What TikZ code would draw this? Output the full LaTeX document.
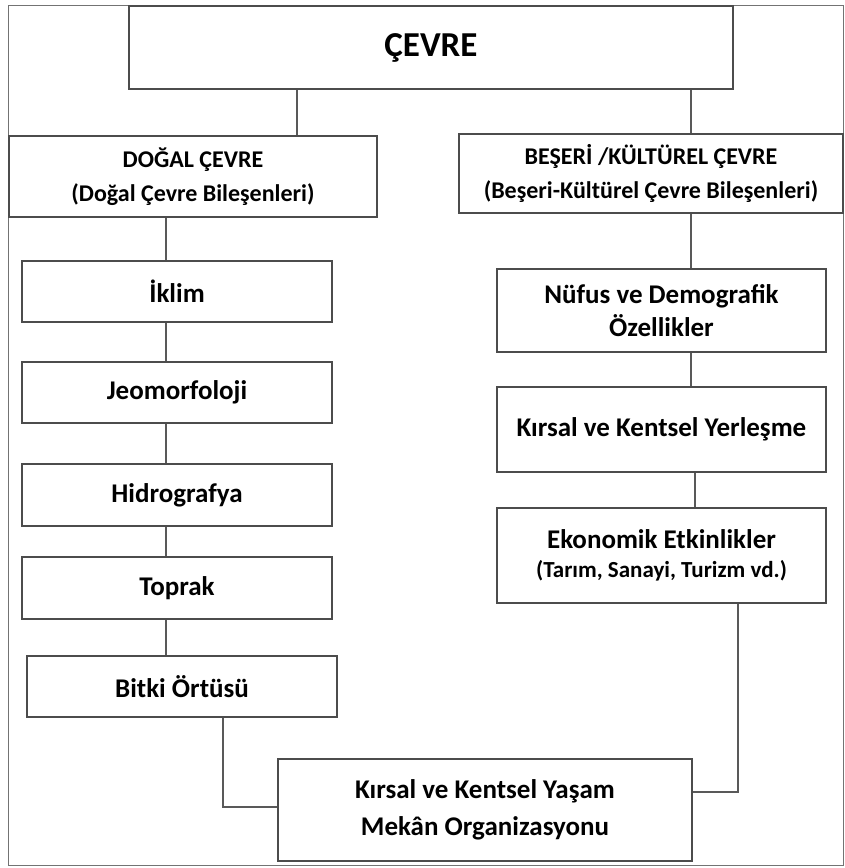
\documentclass[tikz,border=0pt]{standalone}
\usepackage{fontspec}
\setmainfont{Carlito}
\begin{document}
\begin{tikzpicture}[x=1pt, y=-1pt,
  box/.style={draw=black!70, line width=1.3pt, fill=white, inner sep=0pt,
    align=center, font=\bfseries\fontsize{27}{33}\selectfont},
  head/.style={box, font=\bfseries\fontsize{24}{34}\selectfont},
  link/.style={draw=black!65, line width=1.3pt}]

\useasboundingbox (0,0) rectangle (845,868);

% Outer frame
\draw[black!55, line width=1pt] (8,5) rectangle (843,865);

% Top box
\node[box, minimum width=604, minimum height=83, font=\bfseries\fontsize{35}{40}\selectfont] (cevre) at (431,47.5) {ÇEVRE};

% Two main branches
\node[head, minimum width=368, minimum height=81] (dogal) at (193,176.5)
  {DOĞAL ÇEVRE\\(Doğal Çevre Bileşenleri)};
\node[head, minimum width=384, minimum height=79] (beseri) at (651,173.5)
  {BEŞERİ /KÜLTÜREL ÇEVRE\\(Beşeri-Kültürel Çevre Bileşenleri)};

% Natural components
\node[box, minimum width=310, minimum height=61] (iklim) at (177,291.5) {İklim};
\node[box, minimum width=310, minimum height=61] (jeo) at (177,392.5) {Jeomorfoloji};
\node[box, minimum width=310, minimum height=62] (hidro) at (177,495) {Hidrografya};
\node[box, minimum width=310, minimum height=62] (toprak) at (177,588) {Toprak};
\node[box, minimum width=310, minimum height=61] (bitki) at (182,686.5) {Bitki Örtüsü};

% Human / cultural components
\node[box, minimum width=329, minimum height=83] (nufus) at (661.5,310.5)
  {Nüfus ve Demografik\\Özellikler};
\node[box, minimum width=329, minimum height=85] (kirsal) at (661.5,429.5)
  {Kırsal ve Kentsel Yerleşme};
\node[box, minimum width=329, minimum height=95, font=\bfseries\fontsize{27}{29}\selectfont] (eko) at (661.5,555.5)
  {Ekonomik Etkinlikler\\{\fontsize{23}{29}\selectfont(Tarım, Sanayi, Turizm vd.)}};

% Result box
\node[box, minimum width=414, minimum height=102, font=\bfseries\fontsize{27}{37}\selectfont] (yasam) at (485,810)
  {Kırsal ve Kentsel Yaşam\\Mekân Organizasyonu};

% Helper x positions
\coordinate (xl) at (297,0);
\coordinate (xr) at (691,0);
\coordinate (xk) at (695,0);
\coordinate (xn) at (166,0);
\coordinate (bk) at (223,807);
\coordinate (ek) at (738,792);

% Connectors
\draw[link] (cevre.south -| xl) -- (dogal.north -| xl);
\draw[link] (cevre.south -| xr) -- (beseri.north -| xr);
\draw[link] (dogal.south -| xn) -- (iklim.north -| xn);
\draw[link] (iklim.south -| xn) -- (jeo.north -| xn);
\draw[link] (jeo.south -| xn) -- (hidro.north -| xn);
\draw[link] (hidro.south -| xn) -- (toprak.north -| xn);
\draw[link] (toprak.south -| xn) -- (bitki.north -| xn);
\draw[link] (beseri.south -| xr) -- (nufus.north -| xr);
\draw[link] (nufus.south -| xr) -- (kirsal.north -| xr);
\draw[link] (kirsal.south -| xk) -- (eko.north -| xk);
\draw[link] (bitki.south -| bk) -- (bk) -- (yasam.west |- bk);
\draw[link] (eko.south -| ek) -- (ek) -- (yasam.east |- ek);

\end{tikzpicture}
\end{document}
